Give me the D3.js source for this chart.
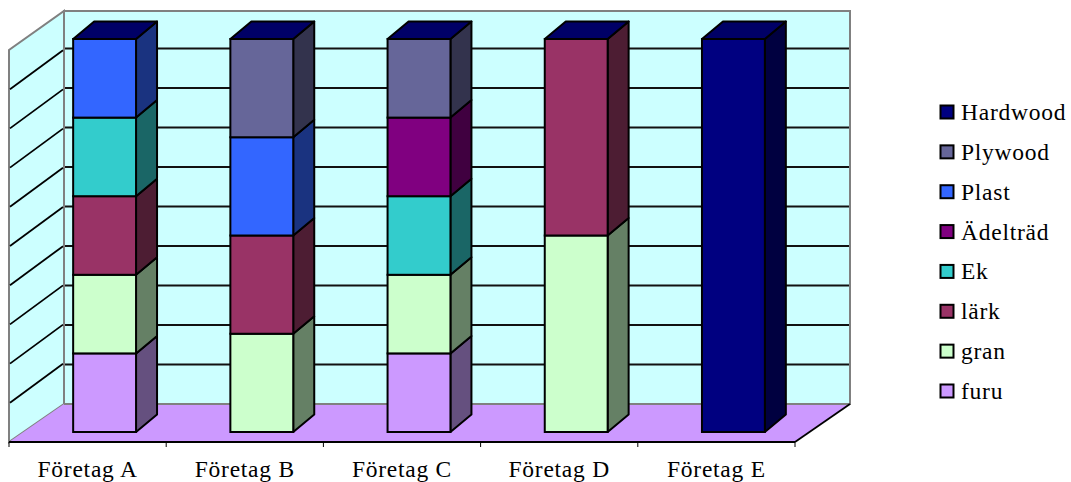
<!DOCTYPE html>
<html>
<head>
<meta charset="utf-8">
<script src="https://cdn.jsdelivr.net/npm/d3@7"></script>
<style>
    html, body { margin: 0; padding: 0; background: #fff; }
    svg { display: block; }
    text { font-family: "Liberation Serif", serif; font-size: 23.5px; letter-spacing: 0.75px; fill: #000; }
</style>
</head>
<body>
<div id="chart"></div>
<script>
const categories = ["Företag A", "Företag B", "Företag C", "Företag D", "Företag E"];

const seriesNames = ["furu", "gran", "lärk", "Ek", "Ädelträd", "Plast", "Plywood", "Hardwood"];

const furu = [20, 0, 20, 0, 0];
const gran = [20, 25, 20, 50, 0];
const lark = [20, 25, 0, 50, 0];
const ek = [20, 0, 20, 0, 0];
const adeltrad = [0, 0, 20, 0, 0];
const plast = [20, 25, 0, 0, 0];
const plywood = [0, 25, 20, 0, 0];
const hardwood = [0, 0, 0, 0, 100];

const gridTicks = [10, 20, 30, 40, 50, 60, 70, 80, 90];

const seriesColors = ["#cc99ff", "#ccffcc", "#993366", "#33cccc", "#800080", "#3366ff", "#666699", "#000080"];
const sideColors = ["#65507f", "#658065", "#4d1d33", "#1a6666", "#400040", "#1a3380", "#33334d", "#000040"];
const topColor = "#000066";

const width = 1071;
const height = 482;

const svg = d3.select("#chart")
    .append("svg")
    .attr("width", width)
    .attr("height", height);

// front edge of the floor, back wall foot and top
const frontY = 442;
const frontTop = 50;
const backY = 404;
const backTop = 11;
const wallDx = 55;
// bars stand in the middle of the floor
const barDx = 17;
const depthDx = 21;
const depthDy = -17.5;

const x = d3.scaleBand()
    .domain(categories)
    .range([9, 795])
    .paddingInner(0.6)
    .paddingOuter(0.3);

const sideY = d3.scaleLinear().domain([0, 100]).range([frontY, frontTop]);
const wallY = d3.scaleLinear().domain([0, 100]).range([backY, 9]);
const barY = d3.scaleLinear().domain([0, 100]).range([432, 39]);

const x0 = x.range()[0];
const x1 = x.range()[1];

const poly = pts => pts.map(p => p.join(",")).join(" ");

// back wall, side wall, floor
svg.append("polygon")
    .attr("points", poly([[x0 + wallDx, backY], [x0 + wallDx, backTop], [x1 + wallDx, backTop], [x1 + wallDx, backY]]))
    .attr("fill", "#ccffff")
    .attr("stroke", "#808080")
    .attr("stroke-width", 2);

svg.append("polygon")
    .attr("points", poly([[x0, frontY], [x0, frontTop], [x0 + wallDx, backTop], [x0 + wallDx, backY]]))
    .attr("fill", "#ccffff")
    .attr("stroke", "#808080")
    .attr("stroke-width", 2);

// gridlines on both walls
svg.selectAll(".grid-back")
    .data(gridTicks)
    .enter().append("line")
    .attr("class", "grid-back")
    .attr("x1", x0 + wallDx + 1)
    .attr("x2", x1 + wallDx - 1)
    .attr("y1", d => wallY(d))
    .attr("y2", d => wallY(d))
    .attr("stroke", "#111")
    .attr("stroke-width", 1.8);

svg.selectAll(".grid-side")
    .data(gridTicks)
    .enter().append("line")
    .attr("class", "grid-side")
    .attr("x1", x0 + 1)
    .attr("x2", x0 + wallDx - 1)
    .attr("y1", d => sideY(d))
    .attr("y2", d => sideY(d) - 39)
    .attr("stroke", "#000")
    .attr("stroke-width", 1.8);

svg.append("polygon")
    .attr("points", poly([[x0, frontY], [x0 + wallDx, backY], [x1 + wallDx, backY], [x1, frontY]]))
    .attr("fill", "#cc99ff");

svg.append("line")
    .attr("x1", x0 + wallDx)
    .attr("x2", x1 + wallDx)
    .attr("y1", backY)
    .attr("y2", backY)
    .attr("stroke", "#808080")
    .attr("stroke-width", 2);

svg.append("line")
    .attr("x1", x1)
    .attr("x2", x1 + wallDx)
    .attr("y1", frontY)
    .attr("y2", backY)
    .attr("stroke", "#000")
    .attr("stroke-width", 1.8);

// stacked bars
const table = categories.map((c, i) => ({
    category: c,
    furu: furu[i],
    gran: gran[i],
    lark: lark[i],
    ek: ek[i],
    adeltrad: adeltrad[i],
    plast: plast[i],
    plywood: plywood[i],
    hardwood: hardwood[i]
}));

const stacked = d3.stack()
    .keys(["furu", "gran", "lark", "ek", "adeltrad", "plast", "plywood", "hardwood"])(table);

const segments = svg.selectAll(".series")
    .data(stacked)
    .enter().append("g")
    .attr("class", "series");

const face = segments.selectAll("g")
    .data((s, i) => s.filter(d => d[1] > d[0]).map(d => ({
        i: i,
        left: x(d.data.category) + barDx,
        right: x(d.data.category) + barDx + x.bandwidth(),
        low: barY(d[0]),
        high: barY(d[1]),
        isTop: d[1] === 100
    })))
    .enter().append("g");

face.append("polygon")
    .attr("points", d => poly([[d.right, d.low], [d.right + depthDx, d.low + depthDy], [d.right + depthDx, d.high + depthDy], [d.right, d.high]]))
    .attr("fill", d => sideColors[d.i])
    .attr("stroke", "#000")
    .attr("stroke-width", 2)
    .attr("stroke-linejoin", "round");

face.filter(d => d.isTop).append("polygon")
    .attr("points", d => poly([[d.left, d.high], [d.left + depthDx, d.high + depthDy], [d.right + depthDx, d.high + depthDy], [d.right, d.high]]))
    .attr("fill", topColor)
    .attr("stroke", "#000")
    .attr("stroke-width", 2)
    .attr("stroke-linejoin", "round");

face.append("rect")
    .attr("x", d => d.left)
    .attr("y", d => d.high)
    .attr("width", x.bandwidth())
    .attr("height", d => d.low - d.high)
    .attr("fill", d => seriesColors[d.i])
    .attr("stroke", "#000")
    .attr("stroke-width", 2);

// category axis along the front of the floor
const axis = svg.append("g")
    .attr("transform", `translate(0,${frontY})`);

axis.append("line")
    .attr("x1", x0)
    .attr("x2", x1)
    .attr("stroke", "#000")
    .attr("stroke-width", 2);

axis.selectAll(".tick")
    .data(d3.range(categories.length + 1))
    .enter().append("line")
    .attr("class", "tick")
    .attr("x1", i => x0 + i * x.step())
    .attr("x2", i => x0 + i * x.step())
    .attr("y1", 0)
    .attr("y2", 5)
    .attr("stroke", "#000")
    .attr("stroke-width", 1);

axis.selectAll(".cat-label")
    .data(categories)
    .enter().append("text")
    .attr("class", "cat-label")
    .attr("x", d => x(d) + x.bandwidth() / 2)
    .attr("y", 35)
    .attr("text-anchor", "middle")
    .text(d => d);

// legend, top of the stack first
const legendNames = seriesNames.slice().reverse();
const legendColors = seriesColors.slice().reverse();

const legendY = d3.scalePoint()
    .domain(legendNames)
    .range([112, 391]);

const legend = svg.selectAll(".legend")
    .data(legendNames)
    .enter().append("g")
    .attr("class", "legend")
    .attr("transform", d => `translate(0,${legendY(d)})`);

legend.append("rect")
    .attr("x", 940.5)
    .attr("y", -6.5)
    .attr("width", 13)
    .attr("height", 13)
    .attr("fill", (d, i) => legendColors[i])
    .attr("stroke", "#000")
    .attr("stroke-width", 2);

legend.append("text")
    .attr("x", 961)
    .attr("y", 8)
    .text(d => d);
</script>
</body>
</html>
